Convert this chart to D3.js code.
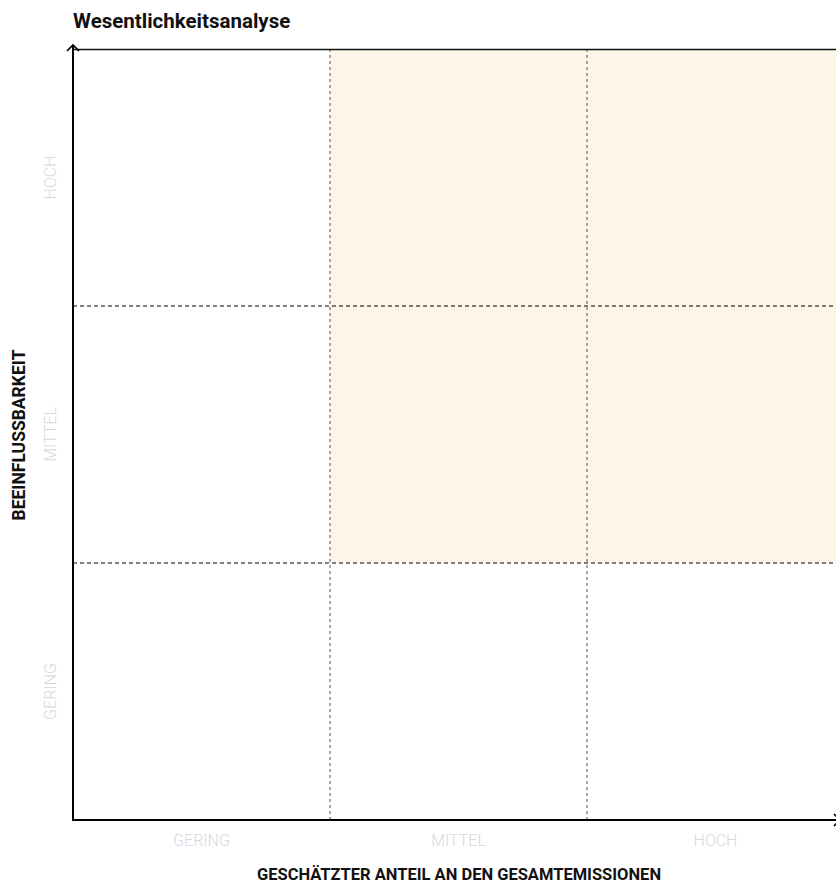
<!DOCTYPE html>
<html><head><meta charset="utf-8">
<script src="https://cdn.jsdelivr.net/npm/d3@7"></script>
<style>
html,body{margin:0;padding:0;background:#fff;overflow:hidden;}
text{font-family:Roboto,"Noto Sans",sans-serif;}
</style></head>
<body><svg id="c" width="836" height="883"></svg>
<script>
const title = "Wesentlichkeitsanalyse";
const xTitle = "GESCHÄTZTER ANTEIL AN DEN GESAMTEMISSIONEN";
const yTitle = "BEEINFLUSSBARKEIT";
const xCategories = ["GERING", "MITTEL", "HOCH"];
const yCategories = ["HOCH", "MITTEL", "GERING"];
const highlightX = ["MITTEL", "HOCH", "MITTEL", "HOCH"];
const highlightY = ["HOCH", "HOCH", "MITTEL", "MITTEL"];

const svg = d3.select("#c");
const mLeft = 73, mTop = 49, size = 771;
const x = d3.scaleBand().domain(xCategories).range([mLeft, mLeft + size]);
const y = d3.scaleBand().domain(yCategories).range([mTop, mTop + size]);

// highlighted cells
svg.append("g").selectAll("rect")
  .data(highlightX.map((d, i) => ({x: d, y: highlightY[i]})))
  .join("rect")
  .attr("x", d => x(d.x)).attr("y", d => y(d.y))
  .attr("width", x.bandwidth()).attr("height", y.bandwidth())
  .attr("fill", "#fdf5e6");

// grid lines at band boundaries
const xb = xCategories.slice(1).map(c => x(c));
const yb = yCategories.slice(1).map(c => y(c));
svg.append("g").selectAll("line").data(xb).join("line")
  .attr("x1", d => d).attr("x2", d => d)
  .attr("y1", mTop).attr("y2", mTop + size)
  .attr("stroke", "#555").attr("stroke-width", 1).attr("stroke-dasharray", "3,3");
svg.append("g").selectAll("line").data(yb).join("line")
  .attr("y1", d => d).attr("y2", d => d)
  .attr("x1", mLeft).attr("x2", mLeft + size)
  .attr("stroke", "#000").attr("stroke-width", 1).attr("stroke-dasharray", "4,3");

// top border
svg.append("line").attr("x1", mLeft).attr("x2", mLeft + size)
  .attr("y1", mTop + 0.5).attr("y2", mTop + 0.5)
  .attr("stroke", "#111").attr("stroke-width", 1.5);

// axes lines with arrows
const bottom = mTop + size;
svg.append("line").attr("x1", mLeft).attr("x2", mLeft).attr("y1", bottom + 1).attr("y2", mTop - 4)
  .attr("stroke", "#000").attr("stroke-width", 2);
svg.append("path").attr("d", `M${mLeft - 6},${mTop + 2} L${mLeft},${mTop - 4} L${mLeft + 6},${mTop + 2}`)
  .attr("fill", "none").attr("stroke", "#000").attr("stroke-width", 1.6);
svg.append("line").attr("x1", mLeft - 1).attr("x2", mLeft + size - 4).attr("y1", bottom).attr("y2", bottom)
  .attr("stroke", "#000").attr("stroke-width", 2);
svg.append("path").attr("d", `M${mLeft + size - 10},${bottom - 6} L${mLeft + size - 4},${bottom} L${mLeft + size - 10},${bottom + 6}`)
  .attr("fill", "none").attr("stroke", "#000").attr("stroke-width", 1.6);

// tick labels via d3 axes
const gx = svg.append("g").attr("transform", `translate(0,${bottom})`)
  .call(d3.axisBottom(x).tickSize(0).tickPadding(15));
gx.select(".domain").remove();
gx.selectAll("text").attr("fill", "#d5d8de").attr("font-size", 16).attr("font-weight", 300)
  .attr("font-family", "Roboto");

const gy = svg.append("g").attr("transform", `translate(${mLeft},0)`)
  .call(d3.axisLeft(y).tickSize(0));
gy.select(".domain").remove();
gy.selectAll(".tick text")
  .attr("fill", "#d5d8de").attr("font-size", 16).attr("font-weight", 300).attr("font-family", "Roboto")
  .attr("x", null).attr("dy", null)
  .attr("text-anchor", "middle")
  .attr("transform", "translate(-17,0) rotate(-90)");

// titles
svg.append("text").attr("x", mLeft).attr("y", 28).text(title)
  .attr("font-size", 20.5).attr("font-weight", 700).attr("fill", "#111");
svg.append("text").attr("x", 459).attr("y", 880).attr("text-anchor", "middle").text(xTitle)
  .attr("font-size", 16.5).attr("font-weight", 700).attr("fill", "#111");
svg.append("text").attr("transform", "translate(25,435) rotate(-90)").attr("text-anchor", "middle").text(yTitle)
  .attr("font-size", 17.5).attr("font-weight", 700).attr("fill", "#111");
</script></body></html>
